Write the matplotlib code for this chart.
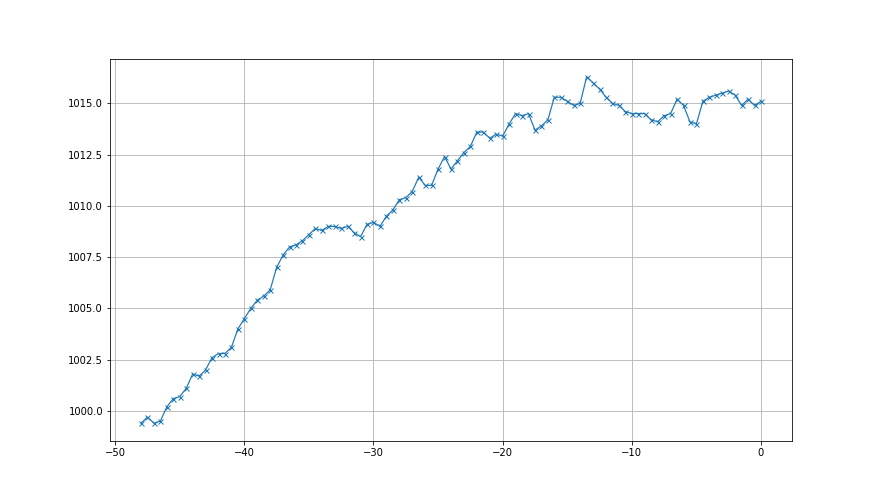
import numpy as np
import matplotlib
matplotlib.use("Agg")
import matplotlib.pyplot as plt

# hours relative to now, half-hour steps
heures = np.arange(-48, 0.01, 0.5)

# pression (hPa)
pression = [
    999.4, 999.7, 999.4, 999.5, 1000.2, 1000.6, 1000.7, 1001.1, 1001.8, 1001.7,
    1002.0, 1002.6, 1002.8, 1002.8, 1003.1, 1004.0, 1004.5, 1005.0, 1005.4, 1005.6,
    1005.9,
    1007.0, 1007.6, 1008.0, 1008.1, 1008.3, 1008.6, 1008.9, 1008.8, 1009.0, 1009.0,
    1008.9, 1009.0, 1008.7, 1008.5, 1009.1, 1009.2, 1009.0, 1009.5, 1009.8, 1010.3,
    1010.4, 1010.7, 1011.4, 1011.0, 1011.0, 1011.8, 1012.4, 1011.8, 1012.2, 1012.6,
    1012.9, 1013.6, 1013.6, 1013.3, 1013.5, 1013.4, 1014.0, 1014.5, 1014.4, 1014.5,
    1013.7, 1013.9, 1014.2, 1015.3, 1015.3, 1015.1, 1014.9, 1015.0, 1016.3, 1016.0,
    1015.7, 1015.3, 1015.0, 1014.9, 1014.6, 1014.5, 1014.5, 1014.5, 1014.2, 1014.1,
    1014.4, 1014.5, 1015.2, 1014.9, 1014.1, 1014.0, 1015.1, 1015.3, 1015.4, 1015.5,
    1015.6, 1015.4, 1014.9, 1015.2, 1014.9, 1015.1,
]

fig, ax = plt.subplots(figsize=(880 / 72, 495 / 72), dpi=72)
ax.plot(heures, pression, marker='x', color='C0', linewidth=1.2, markersize=5)
ax.grid(True)

fig.savefig("out.png", dpi=72)
